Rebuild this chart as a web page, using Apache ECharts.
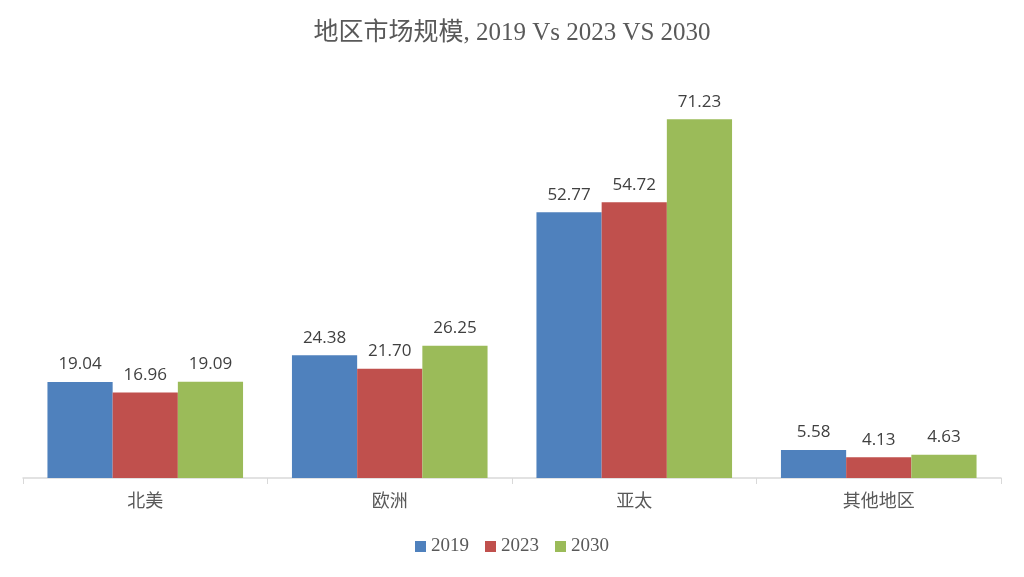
<!DOCTYPE html>
<html><head><meta charset="utf-8">
<script src="https://cdn.jsdelivr.net/npm/echarts@6/dist/echarts.min.js"></script>
<style>html,body{margin:0;padding:0;background:#fff}#c{width:1024px;height:577px}</style>
</head><body><div id="c"></div>
<script>
const categories = ['北美', '欧洲', '亚太', '其他地区'];
const s2019 = [19.04, 24.38, 52.77, 5.58];
const s2023 = [16.96, 21.70, 54.72, 4.13];
const s2030 = [19.09, 26.25, 71.23, 4.63];
const seriesNames = ['2019', '2023', '2030'];
const colors = ['#4f81bd', '#c0504d', '#9bbb59'];

const chart = echarts.init(document.getElementById('c'));
const serifCJK = '"Liberation Serif", "DejaVu Serif", "Noto Sans CJK SC", serif';
function mk(name, data, color) {
  return {
    name, type: 'bar', data, barGap: '0%', barCategoryGap: '20%',
    itemStyle: { color },
    label: { show: true, position: 'top', distance: 9, color: '#404040', fontSize: 17,
      fontFamily: '"Open Sans", "Noto Sans", sans-serif',
      formatter: p => p.value.toFixed(2) }
  };
}
chart.setOption({
  animation: false,
  title: { text: '地区市场规模, 2019 Vs 2023 VS 2030', left: 'center', top: 16,
    textStyle: { color: '#595959', fontSize: 25, fontWeight: 'normal', fontFamily: serifCJK } },
  legend: { bottom: 16, left: 'center', itemWidth: 11, itemHeight: 11, itemGap: 16,
    icon: 'rect', data: seriesNames,
    textStyle: { color: '#595959', fontSize: 19, fontFamily: serifCJK } },
  grid: { left: 23, right: 23, top: 75, bottom: 99 },
  xAxis: { type: 'category', data: categories,
    axisLine: { lineStyle: { color: '#d9d9d9', width: 1.5 } },
    axisTick: { show: true, length: 6, lineStyle: { color: '#d9d9d9' } },
    axisLabel: { color: '#595959', fontSize: 18, margin: 15, fontFamily: serifCJK } },
  yAxis: { type: 'value', min: 0, max: 80, show: false, splitLine: { show: false } },
  series: [mk(seriesNames[0], s2019, colors[0]), mk(seriesNames[1], s2023, colors[1]), mk(seriesNames[2], s2030, colors[2])]
});
</script></body></html>
